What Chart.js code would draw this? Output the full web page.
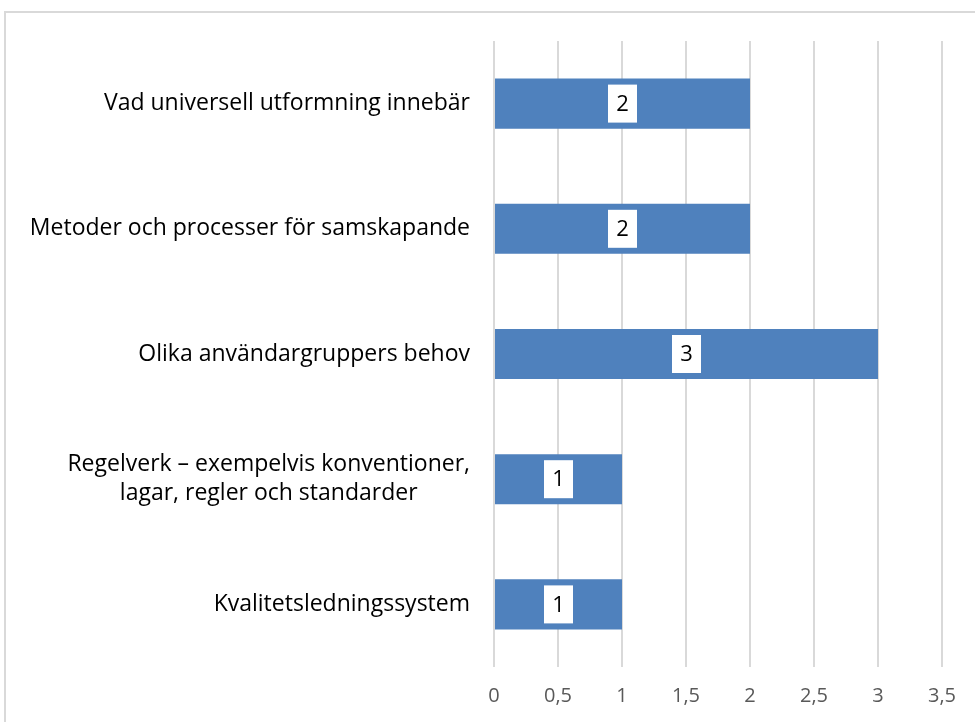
<!DOCTYPE html>
<html>
<head>
<meta charset="utf-8">
<script src="https://cdn.jsdelivr.net/npm/chart.js@4"></script>
<style>
  html, body { margin: 0; padding: 0; background: #fff; overflow: hidden; }
  #frame { position: absolute; left: 4px; top: 11px; width: 1000px; height: 740px; border: 2px solid #d9d9d9; box-sizing: border-box; }
  #wrap { position: absolute; left: 0; top: 0; width: 975px; height: 722px; }
</style>
</head>
<body>
<div id="frame"></div>
<div id="wrap"><canvas id="chart"></canvas></div>
<script>
const categories = [
    ['Vad universell utformning innebär'],
    ['Metoder och processer för samskapande'],
    ['Olika användargruppers behov'],
    ['Regelverk – exempelvis konventioner,', 'lagar, regler och standarder'],
    ['Kvalitetsledningssystem']
];
const values = [2, 2, 3, 1, 1];
const xTicks = [0, 0.5, 1, 1.5, 2, 2.5, 3, 3.5];

const FONT = '"Open Sans", sans-serif';

// category labels: right-aligned block, lines centered inside the block
const categoryLabels = {
    id: 'categoryLabels',
    afterDraw(chart) {
        const ctx = chart.ctx;
        const y = chart.scales.y;
        ctx.save();
        ctx.font = '23px ' + FONT;
        ctx.fillStyle = '#000';
        ctx.textAlign = 'center';
        ctx.textBaseline = 'middle';
        const lineH = 29;
        categories.forEach((lines, i) => {
            const maxW = Math.max(...lines.map(l => ctx.measureText(l).width));
            const cx = 470 - maxW / 2;
            const cy = y.getPixelForTick(i);
            const top = cy - (lines.length - 1) * lineH / 2;
            lines.forEach((l, j) => ctx.fillText(l, cx, top + j * lineH));
        });
        ctx.restore();
    }
};

// white boxes with the value in the middle of each bar
const valueLabels = {
    id: 'valueLabels',
    afterDatasetsDraw(chart) {
        const ctx = chart.ctx;
        const meta = chart.getDatasetMeta(0);
        ctx.save();
        ctx.font = '22px ' + FONT;
        ctx.textAlign = 'center';
        ctx.textBaseline = 'middle';
        meta.data.forEach((bar, i) => {
            const cx = (bar.x + bar.base) / 2;
            const cy = bar.y;
            ctx.fillStyle = '#fff';
            ctx.fillRect(cx - 14.5, cy - 19, 29, 38);
            ctx.fillStyle = '#000';
            ctx.fillText(String(values[i]), cx, cy + 1);
        });
        ctx.restore();
    }
};

new Chart(document.getElementById('chart'), {
    type: 'bar',
    data: {
        labels: categories.map(c => c.join(' ')),
        datasets: [{
            data: values,
            backgroundColor: '#4f81bd',
            borderWidth: 0,
            categoryPercentage: 0.4,
            barPercentage: 1
        }]
    },
    options: {
        indexAxis: 'y',
        responsive: true,
        maintainAspectRatio: false,
        animation: false,
        layout: { padding: { top: 41, right: 33, left: 0, bottom: 0 } },
        plugins: { legend: { display: false }, tooltip: { enabled: false } },
        scales: {
            x: {
                min: 0,
                max: 3.5,
                afterBuildTicks: axis => { axis.ticks = xTicks.map(v => ({ value: v })); },
                afterFit: axis => { axis.height = 55; },
                grid: { color: '#d9d9d9', lineWidth: 2, drawTicks: false },
                border: { display: false },
                ticks: {
                    padding: 17,
                    color: '#595959',
                    font: { family: FONT, size: 20 },
                    callback: v => String(v).replace('.', ',')
                }
            },
            y: {
                afterFit: axis => { axis.width = 494; },
                grid: { display: false },
                border: { display: false },
                ticks: { display: false }
            }
        }
    },
    plugins: [categoryLabels, valueLabels]
});
</script>
</body>
</html>
